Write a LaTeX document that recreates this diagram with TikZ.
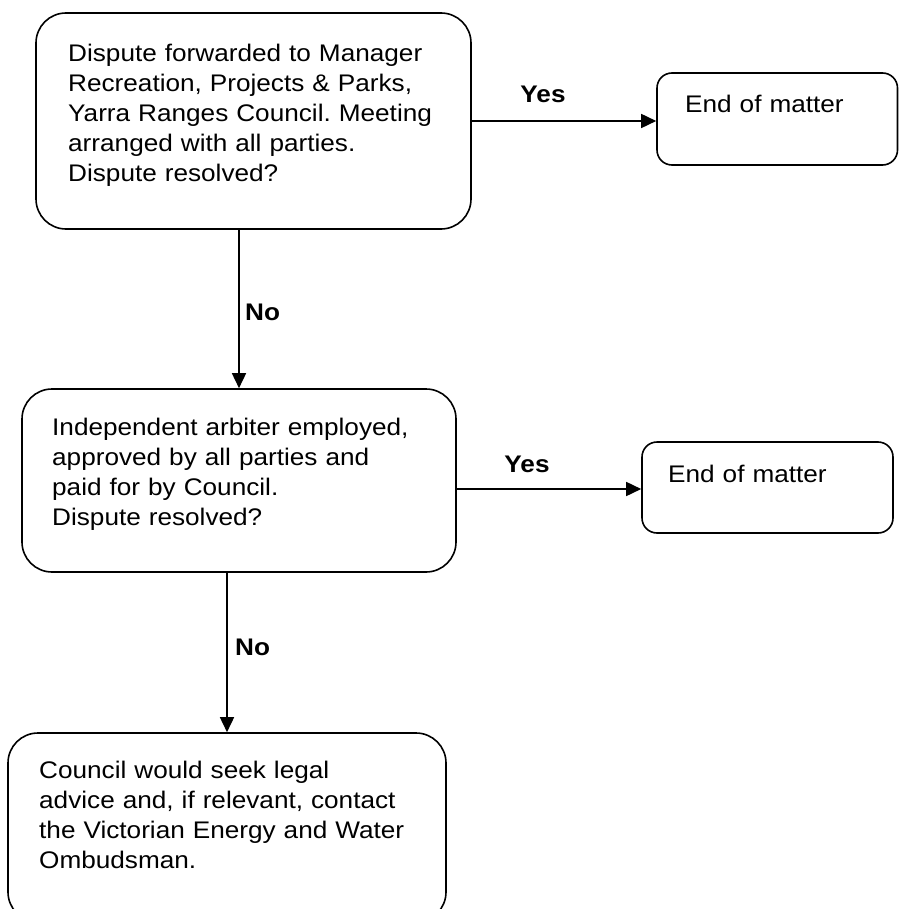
\documentclass[tikz,border=0pt]{standalone}
\usepackage{fontspec}
\setmainfont{Liberation Sans}[FakeStretch=1.09]
\usetikzlibrary{arrows.meta}
\frenchspacing
\begin{document}
\begin{tikzpicture}[x=1pt,y=-1pt,
  box/.style={draw, line width=1.6pt, rounded corners=30pt, inner sep=0pt},
  smallbox/.style={draw, line width=1.6pt, rounded corners=15pt, inner sep=0pt},
  txt/.style={anchor=base west, inner sep=0pt, align=left, text width=440pt, font=\fontsize{24}{30}\selectfont},
  lbl/.style={anchor=base, inner sep=0pt, font=\fontsize{24}{30}\selectfont\bfseries},
  arr/.style={line width=1.6pt, -{Triangle[length=15pt,width=14pt]}}]
\useasboundingbox (0,0) rectangle (899,909);
\clip (0,0) rectangle (899,909);
% boxes
\node[box, minimum width=435pt, minimum height=216pt] (b1) at (253.5,121) {};
\node[smallbox, minimum width=240.5pt, minimum height=92pt] (e1) at (777.25,119) {};
\node[box, minimum width=434pt, minimum height=183pt] (b2) at (239,480.5) {};
\node[smallbox, minimum width=251pt, minimum height=91pt] (e2) at (767.5,487.5) {};
\node[box, minimum width=438pt, minimum height=189pt] (b3) at (227,827.5) {};
% texts
\node[txt] (t1) at (68,62) {Dispute forwarded to Manager\\Recreation, Projects \& Parks,\\Yarra Ranges Council. Meeting\\arranged with all parties.\\Dispute resolved?};
\node[txt] (t2) at (52,435) {Independent arbiter employed,\\approved by all parties and\\paid for by Council.\\Dispute resolved?};
\node[txt] (t3) at (39,778) {Council would seek legal\\advice and, if relevant, contact\\the Victorian Energy and Water\\Ombudsman.};
\node[txt] (te1) at (685,113) {End of matter};
\node[txt] (te2) at (668,482) {End of matter};
% connectors
\draw[arr] (b1.east |- 0,121) -- (e1.west |- 0,121);
\draw[arr] (b2.north |- b1.south) -- (b2.north);
\draw[arr] (b2.east |- 0,489) -- (e2.west |- 0,489);
\draw[arr] (b3.north |- b2.south) -- (b3.north);
% labels
\node[lbl] (y1) at (543,103) {Yes};
\node[lbl] (y2) at (527,472) {Yes};
\node[lbl, anchor=base west] (n1) at (245,320) {No};
\node[lbl, anchor=base west] (n2) at (235,655) {No};
\end{tikzpicture}
\end{document}
